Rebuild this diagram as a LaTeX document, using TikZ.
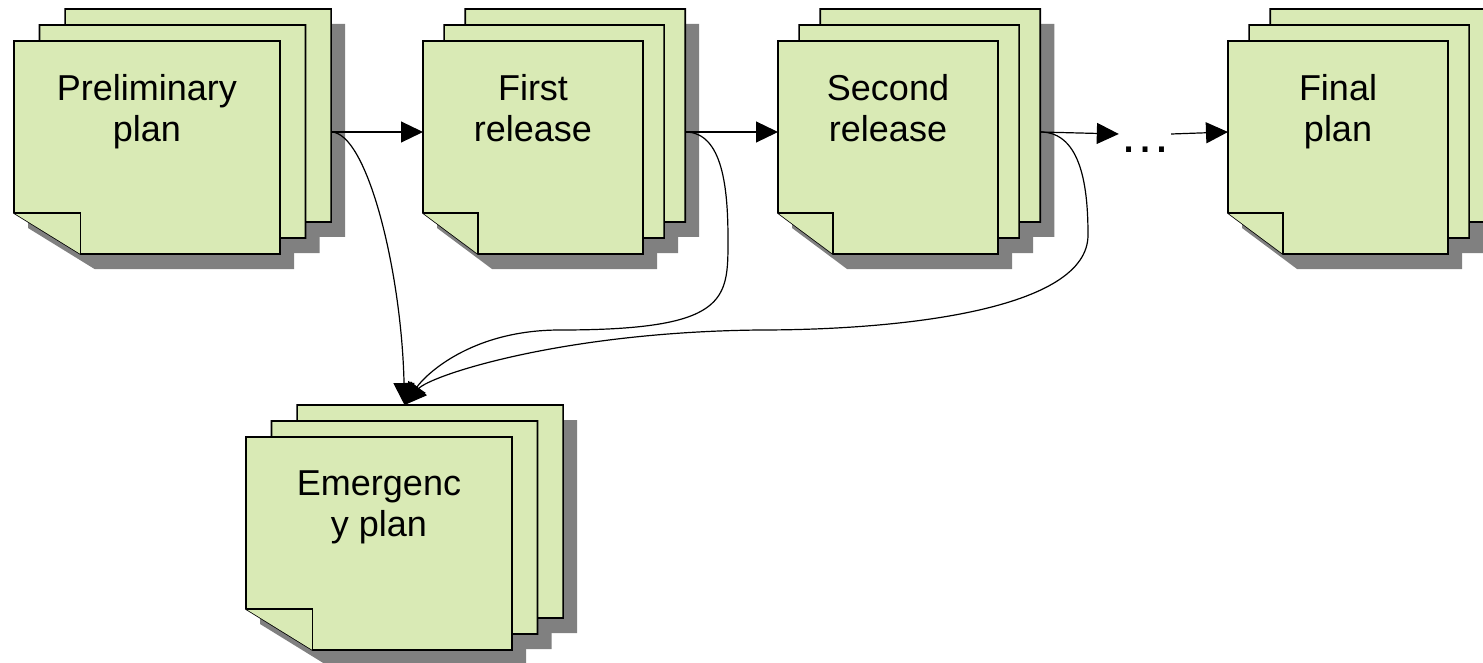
\documentclass[tikz,border=0pt]{standalone}
\usepackage{fontspec}
\usetikzlibrary{arrows.meta}
\newfontfamily\planfont{Liberation Sans}
\definecolor{notegreen}{RGB}{217,234,181}
\definecolor{shadowgray}{RGB}{128,128,128}

\tikzset{
  sheet/.style={draw=black, line width=1.6pt, fill=notegreen},
  dropshade/.style={fill=shadowgray},
  plantext/.style={font=\planfont\fontsize{36}{41}\selectfont, align=center, anchor=north, inner sep=0pt},
  dotsnode/.style={font=\planfont\fontsize{52}{60}\selectfont, text height=38pt, text depth=0pt, inner sep=0pt, anchor=base},
  link/.style={line width=1.2pt, -{Triangle[length=22pt,width=21pt]}}
}

% a stack of three notes: name, x, y (front sheet top left), width, text
\newcommand{\docstack}[5]{%
  \pgfmathsetmacro\sheetdx{0.096*#4}
  % shadows first
  \foreach \k in {2,1,0} {
    \fill[dropshade] ({#2+\k*\sheetdx+14},{#3-16*\k+15}) -- ++(#4,0) -- ++(0,213) -- ++({-0.75*#4},0) -- ++({-0.25*#4},-41) -- cycle;
  }
  % sheets, back to front
  \foreach \k in {2,1,0} {
    \draw[sheet] ({#2+\k*\sheetdx},{#3-16*\k}) -- ++(#4,0) -- ++(0,213) -- ++({-0.75*#4},0) -- ++({-0.25*#4},-41) -- cycle;
    \draw[sheet] ({#2+\k*\sheetdx},{#3-16*\k+172}) -- ++({0.25*#4},0) -- ++(0,41);
  }
  \node[plantext] (#1) at ({#2+#4/2},{#3+33.5}) {#5};
  \coordinate (#1-in) at (#2,{#3+91});
  \coordinate (#1-out) at ({#2+2*\sheetdx+#4},{#3+91});
  \coordinate (#1-top) at ({#2+\sheetdx+#4/2},{#3-32});
}

\begin{document}
\begin{tikzpicture}[x=1pt,y=-1pt]
\useasboundingbox (0,0) rectangle (1483,663);
\clip (0,0) rectangle (1483,663);

% the plans
\docstack{prelim}{14}{41}{266}{Preliminary\\plan}
\docstack{first}{423}{41}{220}{First\\release}
\docstack{second}{778}{41}{220}{Second\\release}
\docstack{final}{1228}{41}{220}{Final\\plan}
\docstack{emerg}{246}{437}{266}{Emergenc\\y plan}

\node[dotsnode] (dots) at (1145,153) {…};

% main line
\draw[link] (prelim-out) -- (first-in);
\draw[link] (first-out) -- (second-in);
\draw[link] (second-out) -- (dots.west);
\draw[link] (dots.east) -- (final-in);

% into the emergency plan
\draw[link] (prelim-out) .. controls +(36,0) and +(-3,-134) .. (emerg-top);
\draw[link] (first-out) .. controls +(38,0) and +(0,-50) .. (728,240)
  .. controls +(0,60) and +(168,0) .. (560,330)
  .. controls +(-90,0) and +(20,-29) .. (emerg-top);
\draw[link] (second-out) .. controls +(42,0) and +(0,-45) .. (1088,235)
  .. controls +(0,75) and +(140,0) .. (760,330)
  .. controls +(-200,2) and +(25,-29) .. (emerg-top);

\end{tikzpicture}
\end{document}
